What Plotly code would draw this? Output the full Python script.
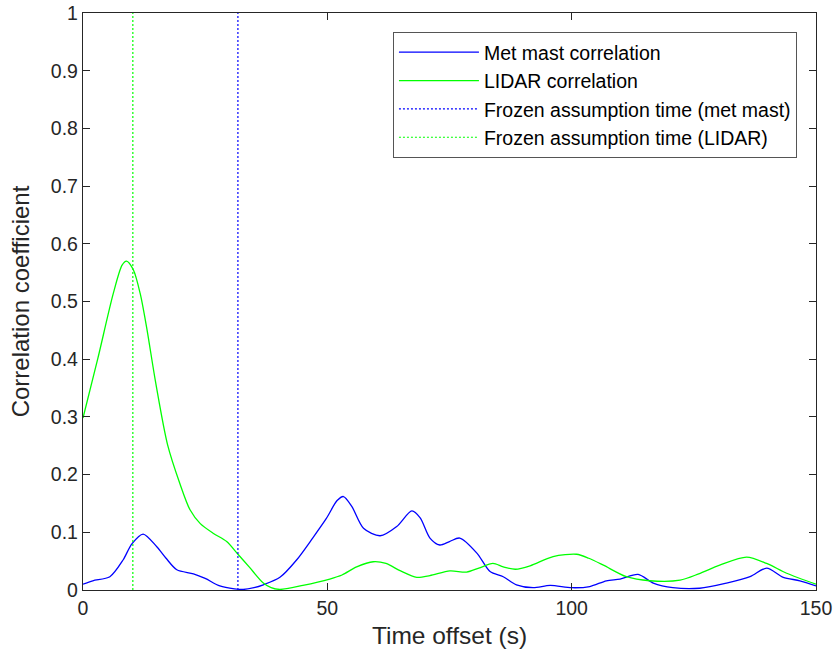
import plotly.graph_objects as go

# ---- data ----
mast_x = [0, 2, 5.5, 8.2, 10, 12.3, 15.1, 17, 19.2, 22.6, 25, 28, 31, 32.8, 35, 36.9,
          40.3, 43.7, 47, 49.8, 52, 53.3, 55, 57.4, 60.8, 64.2, 67.3, 69, 71, 73, 75,
          77.1, 80.6, 83.3, 86, 88.7, 92.1, 95.6, 100, 103.7, 107.1, 109.9, 113.6,
          116.7, 120.7, 126.2, 131.7, 136.5, 139.9, 143.3, 146.7, 150]
mast_y = [0.010, 0.016, 0.023, 0.052, 0.080, 0.097, 0.075, 0.055, 0.035, 0.028, 0.020,
          0.007, 0.002, 0.001, 0.004, 0.009, 0.022, 0.052, 0.090, 0.124, 0.155, 0.162,
          0.145, 0.107, 0.094, 0.110, 0.137, 0.125, 0.090, 0.078, 0.084, 0.090, 0.064,
          0.032, 0.023, 0.009, 0.004, 0.008, 0.004, 0.006, 0.016, 0.019, 0.027, 0.012,
          0.004, 0.003, 0.012, 0.023, 0.038, 0.022, 0.016, 0.007]

lidar_x = [0, 3, 6.2, 8, 8.9, 10.3, 11.7, 13, 14.9, 17.3, 19.8, 21.9, 24, 26.7, 29.4,
           31.8, 34, 36.9, 38.5, 40.3, 45, 50.5, 53, 56, 59.4, 62, 65, 68.3, 71, 75.1,
           78.5, 81, 83.9, 86, 88.5, 91.5, 96.2, 101, 103.5, 106.5, 111.2, 116, 122.2,
           126, 130.3, 135.8, 139.9, 144, 150]
lidar_y = [0.298, 0.400, 0.514, 0.563, 0.570, 0.555, 0.514, 0.456, 0.358, 0.252, 0.185,
           0.139, 0.115, 0.098, 0.084, 0.061, 0.040, 0.012, 0.004, 0.001, 0.008, 0.019,
           0.026, 0.040, 0.049, 0.046, 0.033, 0.022, 0.025, 0.033, 0.031, 0.038, 0.046,
           0.040, 0.036, 0.042, 0.058, 0.062, 0.055, 0.043, 0.023, 0.016, 0.017, 0.028,
           0.043, 0.057, 0.046, 0.029, 0.010]

frozen_mast = 31.7
frozen_lidar = 10.2

names = ["Met mast correlation", "LIDAR correlation",
         "Frozen assumption time (met mast)", "Frozen assumption time (LIDAR)"]

BLUE = "#0000ff"
GREEN = "#00ff00"
AX = "#262626"
FONT = "Liberation Sans, Arial, sans-serif"

fig = go.Figure()
fig.add_trace(go.Scatter(x=mast_x, y=mast_y, mode="lines", name=names[0],
                         line=dict(color=BLUE, width=1.3, shape="spline", smoothing=0.8)))
fig.add_trace(go.Scatter(x=lidar_x, y=lidar_y, mode="lines", name=names[1],
                         line=dict(color=GREEN, width=1.3, shape="spline", smoothing=0.8)))
fig.add_trace(go.Scatter(x=[frozen_mast, frozen_mast], y=[0, 1], mode="lines", name=names[2],
                         line=dict(color=BLUE, width=1.2, dash="2px,2px")))
fig.add_trace(go.Scatter(x=[frozen_lidar, frozen_lidar], y=[0, 1], mode="lines", name=names[3],
                         line=dict(color=GREEN, width=1.2, dash="2px,2px")))

axis_common = dict(
    showgrid=False, zeroline=False, showline=True, linecolor=AX, linewidth=1.3,
    mirror="ticks", ticks="inside", ticklen=7, tickwidth=1.3, tickcolor=AX,
    tickfont=dict(family=FONT, size=19.5, color=AX), automargin=False,
)

fig.update_layout(
    width=835, height=661, autosize=False,
    margin=dict(l=83, r=19, t=13, b=71),
    plot_bgcolor="white", paper_bgcolor="white",
    font=dict(family=FONT, color=AX),
    xaxis=dict(range=[0, 150], tickvals=[0, 50, 100, 150],
               title=dict(text="Time offset (s)", font=dict(family=FONT, size=24.5, color=AX),
                          standoff=9),
               **axis_common),
    yaxis=dict(range=[0, 1], dtick=0.1, tick0=0,
               title=dict(text="Correlation coefficient", font=dict(family=FONT, size=24, color=AX),
                          standoff=14),
               **axis_common),
    legend=dict(x=0.974, y=0.967, xanchor="right", yanchor="top",
                bgcolor="white", bordercolor="#555555", borderwidth=1,
                itemwidth=80,
                font=dict(family=FONT, size=19.5, color="black")),
    showlegend=True,
)

fig.write_html("out.html")
